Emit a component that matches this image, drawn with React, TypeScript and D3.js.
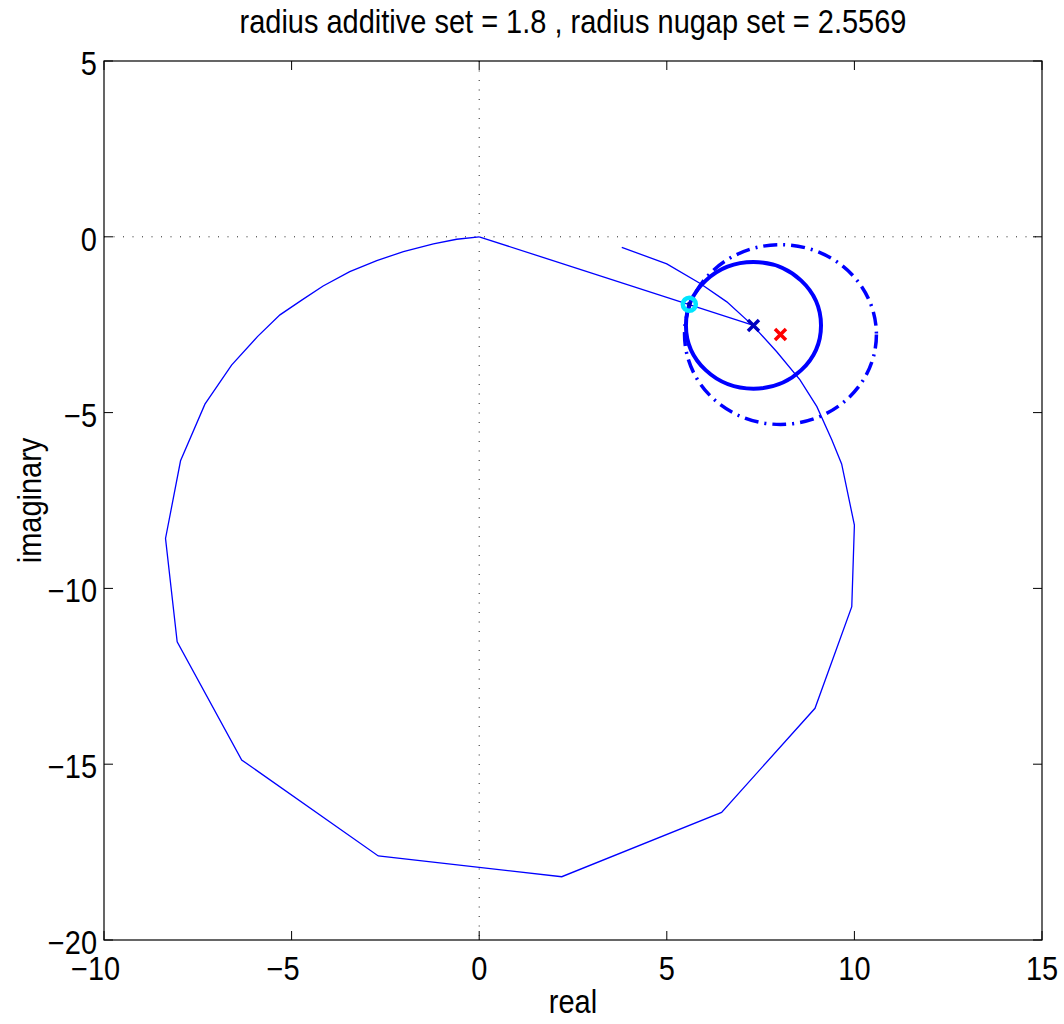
import React from 'react';
import * as d3 from 'd3';

// Nyquist curve vertices (real, imaginary)
const curveRe = [3.8, 5.0, 5.88, 6.6, 7.31, 7.93, 8.55, 9.0, 9.4, 9.66, 10.0, 9.93, 8.95, 6.46, 2.2, -2.69, -6.33, -8.05, -8.36, -7.96, -7.31, -6.6, -5.91, -5.31, -4.73, -4.16, -3.45, -2.73, -2.02, -1.22, -0.6, 0];
const curveIm = [-0.3, -0.77, -1.32, -1.85, -2.54, -3.27, -4.07, -4.83, -5.78, -6.46, -8.2, -10.52, -13.41, -16.37, -18.2, -17.61, -14.88, -11.52, -8.58, -6.37, -4.76, -3.65, -2.84, -2.22, -1.8, -1.4, -0.99, -0.68, -0.42, -0.2, -0.07, 0];

// line from origin to the nominal point
const vecRe = [0, 7.31];
const vecIm = [0, -2.52];

const additiveCenter = [7.31, -2.52];
const additiveRadius = 1.8;
const nugapCenter = [8.03, -2.78];
const nugapRadius = 2.5569;
const touchPoint = [5.6, -1.92];

const xTicks = [-10, -5, 0, 5, 10, 15];
const yTicks = [5, 0, -5, -10, -15, -20];

const title = 'radius additive set = 1.8 , radius nugap set = 2.5569';

const W = 1064;
const H = 1024;
const margin = { left: 104, right: 22, top: 61, bottom: 84 };
const FONT = '"Liberation Sans", Arial, Helvetica, sans-serif';
const FS = 29;
const STRETCH = 1.12;

function Label(props: { x: number; y: number; anchor?: string; rotate?: number; children: React.ReactNode }) {
  const { x, y, anchor = 'middle', rotate = 0, children } = props;
  return (
    <text transform={`translate(${x},${y}) rotate(${rotate}) scale(1,${STRETCH})`} fontSize={FS}
      textAnchor={anchor}>{children}</text>
  );
}

export default function App() {
  const x = d3.scaleLinear().domain([-10, 15]).range([margin.left, W - margin.right]);
  const y = d3.scaleLinear().domain([-20, 5]).range([H - margin.bottom, margin.top]);
  const [x0, x1] = x.range();
  const [y0, y1] = y.range();

  const line = d3.line<number>()
    .x(i => x(curveRe[i]))
    .y(i => y(curveIm[i]));
  const vecLine = d3.line<number>()
    .x(i => x(vecRe[i]))
    .y(i => y(vecIm[i]));

  const rx = (r: number) => x(r) - x(0);
  const ry = (r: number) => y(0) - y(r);

  const cross = (cx: number, cy: number, s: number) =>
    `M${cx - s},${cy - s}L${cx + s},${cy + s}M${cx - s},${cy + s}L${cx + s},${cy - s}`;

  const tick = 9;
  const digitW = 0.556 * FS;

  return (
    <svg width={W} height={H} style={{ position: 'absolute', left: 0, top: 0, background: '#fff' }}
      fontFamily={FONT}>
      <rect width={W} height={H} fill="#fff" />
      {/* zero lines */}
      <line x1={x0} x2={x1} y1={y(0)} y2={y(0)} stroke="#222" strokeWidth={1} strokeDasharray="1,8.5" />
      <line x1={x(0)} x2={x(0)} y1={y1} y2={y0} stroke="#222" strokeWidth={1} strokeDasharray="1,8.5" />

      {/* curves */}
      <path d={line(d3.range(curveRe.length)) || ''} fill="none" stroke="#0000ff" strokeWidth={1.3} />
      <path d={vecLine(d3.range(vecRe.length)) || ''} fill="none" stroke="#0000ff" strokeWidth={1.3} />

      <ellipse cx={x(nugapCenter[0])} cy={y(nugapCenter[1])} rx={rx(nugapRadius)} ry={ry(nugapRadius)}
        fill="none" stroke="#0000ff" strokeWidth={3.5} strokeDasharray="14,6,2,6" />
      <ellipse cx={x(additiveCenter[0])} cy={y(additiveCenter[1])} rx={rx(additiveRadius)} ry={ry(additiveRadius)}
        fill="none" stroke="#0000ff" strokeWidth={4} />

      <path d={cross(x(additiveCenter[0]), y(additiveCenter[1]), 5.5)} stroke="#0000c0" strokeWidth={3.5} fill="none" />
      <path d={cross(x(nugapCenter[0]), y(nugapCenter[1]), 5.5)} stroke="#ff0000" strokeWidth={3.5} fill="none" />
      <circle cx={x(touchPoint[0])} cy={y(touchPoint[1])} r={6.5} fill="none" stroke="#00e5ff" strokeWidth={4.5} />
      <path d={cross(x(touchPoint[0]), y(touchPoint[1]), 1.8)} stroke="#0000b0" strokeWidth={2.2} fill="none" />

      {/* box */}
      <rect x={x0} y={y1} width={x1 - x0} height={y0 - y1} fill="none" stroke="#000" strokeWidth={1.2} />

      {/* ticks */}
      {xTicks.map(t => (
        <g key={'x' + t}>
          <line x1={x(t)} x2={x(t)} y1={y0} y2={y0 - tick} stroke="#000" />
          <line x1={x(t)} x2={x(t)} y1={y1} y2={y1 + tick} stroke="#000" />
          <Label x={x(t)} y={y0 + 40}>{Math.abs(t)}</Label>
          {t < 0 && (
            <Label x={x(t) - (String(Math.abs(t)).length * digitW) / 2} y={y0 + 40} anchor="end">−</Label>
          )}
        </g>
      ))}
      {yTicks.map(t => (
        <g key={'y' + t}>
          <line x1={x0} x2={x0 + tick} y1={y(t)} y2={y(t)} stroke="#000" />
          <line x1={x1} x2={x1 - tick} y1={y(t)} y2={y(t)} stroke="#000" />
          <Label x={x0 - 7} y={y(t) + 14} anchor="end">{t < 0 ? '−' + Math.abs(t) : t}</Label>
        </g>
      ))}

      {/* labels */}
      <Label x={(x0 + x1) / 2} y={33}>{title}</Label>
      <Label x={(x0 + x1) / 2} y={1013}>real</Label>
      <Label x={41} y={(y0 + y1) / 2} rotate={-90}>imaginary</Label>
    </svg>
  );
}
